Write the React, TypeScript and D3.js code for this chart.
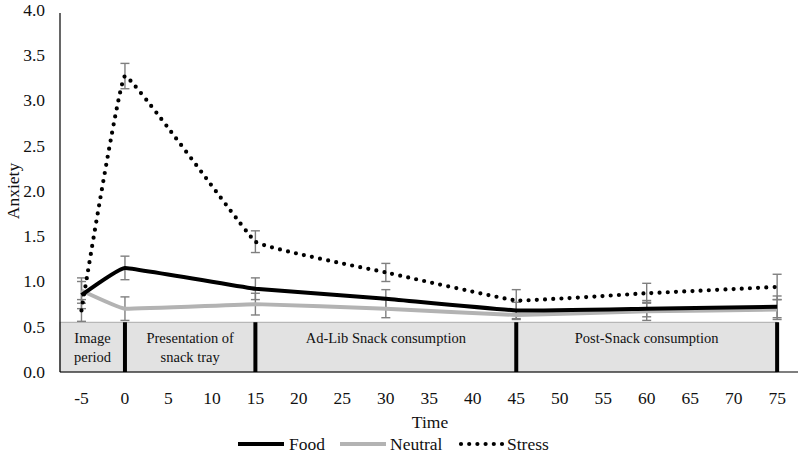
import React from "react";
import * as d3 from "d3";

const times = [-5, 0, 15, 30, 45, 60, 75];
const food = [0.85, 1.15, 0.92, 0.81, 0.68, 0.70, 0.72];
const foodErr = [0.15, 0.13, 0.12, 0.10, 0.09, 0.09, 0.12];
const neutral = [0.90, 0.70, 0.75, 0.70, 0.63, 0.67, 0.69];
const neutralErr = [0.14, 0.13, 0.12, 0.10, 0.05, 0.10, 0.11];
const stress = [0.68, 3.27, 1.44, 1.10, 0.79, 0.87, 0.94];
const stressErr = [0.12, 0.14, 0.12, 0.10, 0.12, 0.11, 0.14];
const xTicks = [-5, 0, 5, 10, 15, 20, 25, 30, 35, 40, 45, 50, 55, 60, 65, 70, 75];
const yTicks = [0, 0.5, 1, 1.5, 2, 2.5, 3, 3.5, 4];
const phaseBounds = [0, 15, 45, 75];
const phases = [
  { from: -7.47, to: 0, lines: ["Image", "period"] },
  { from: 0, to: 15, lines: ["Presentation of", "snack tray"] },
  { from: 15, to: 45, lines: ["Ad-Lib Snack consumption"] },
  { from: 45, to: 75, lines: ["Post-Snack consumption"] },
];
const boxTop = 0.55;

const W = 800, H = 454;
const left = 60, right = 798, top = 10, bottom = 372;
const font = "'Liberation Serif', 'Times New Roman', serif";

export default function App() {
  const x = d3.scaleLinear().domain([-7.47, 77.4]).range([left, right]);
  const y = d3.scaleLinear().domain([0, 4]).range([bottom, top]);
  const line = d3
    .line<number>()
    .x((_, i) => x(times[i]))
    .y((d) => y(d))
    .curve(d3.curveCardinal.tension(0.8));

  const series = [
    { name: "Food", vals: food, err: foodErr, color: "#000", width: 4, dash: undefined as string | undefined, cap: "butt" },
    { name: "Neutral", vals: neutral, err: neutralErr, color: "#b3b3b3", width: 4, dash: undefined, cap: "butt" },
    { name: "Stress", vals: stress, err: stressErr, color: "#000", width: 4.2, dash: "0 8.2", cap: "round" },
  ];

  return (
    <svg width={W} height={H} style={{ position: "absolute", left: 0, top: 0, background: "#fff" }}>
      <rect
        x={left}
        y={y(boxTop)}
        width={x(75) - left}
        height={bottom - y(boxTop)}
        fill="#e2e2e2"
        stroke="#9a9a9a"
        strokeWidth={0.8}
      />
      {phaseBounds.map((b) => (
        <line key={b} x1={x(b)} x2={x(b)} y1={y(boxTop)} y2={bottom} stroke="#000" strokeWidth={4} />
      ))}
      {phases.map((p, i) => {
        const cx = (x(p.from) + x(p.to)) / 2;
        return (
          <text key={i} x={cx} textAnchor="middle" fontFamily={font} fontSize={14.5} fill="#111">
            {p.lines.map((l, j) => (
              <tspan key={j} x={cx} y={y(boxTop) + 21 + j * 19}>
                {l}
              </tspan>
            ))}
          </text>
        );
      })}

      <line x1={left} x2={left} y1={top + 3} y2={bottom} stroke="#000" strokeWidth={1.2} />
      <line x1={left} x2={right} y1={bottom} y2={bottom} stroke="#000" strokeWidth={1.2} />
      {yTicks.map((t) => (
        <text key={t} x={45} y={y(t)} dy="0.33em" textAnchor="end" fontFamily={font} fontSize={17.5} fill="#111">
          {t.toFixed(1)}
        </text>
      ))}
      {xTicks.map((t) => (
        <text key={t} x={x(t)} y={398} dy="0.35em" textAnchor="middle" fontFamily={font} fontSize={17.5} fill="#111">
          {t}
        </text>
      ))}
      <text x={430} y={422} dy="0.35em" textAnchor="middle" fontFamily={font} fontSize={17.5} fill="#111">
        Time
      </text>
      <text
        transform={`translate(13,${(top + bottom) / 2}) rotate(-90)`}
        dy="0.35em"
        textAnchor="middle"
        fontFamily={font}
        fontSize={17.5}
        fill="#111"
      >
        Anxiety
      </text>

      {series.map((s) =>
        s.vals.map((v, i) => {
          const cx = x(times[i]);
          const y1 = y(v - s.err[i]);
          const y2 = y(v + s.err[i]);
          return (
            <g key={s.name + i} stroke="#7f7f7f" strokeWidth={1.4}>
              <line x1={cx} x2={cx} y1={y1} y2={y2} />
              <line x1={cx - 4.5} x2={cx + 4.5} y1={y1} y2={y1} />
              <line x1={cx - 4.5} x2={cx + 4.5} y1={y2} y2={y2} />
            </g>
          );
        })
      )}

      {[series[1], series[0], series[2]].map((s) => (
        <path
          key={s.name}
          d={line(s.vals) || ""}
          fill="none"
          stroke={s.color}
          strokeWidth={s.width}
          strokeDasharray={s.dash}
          strokeLinecap={s.cap as any}
          strokeLinejoin="round"
        />
      ))}

      {[
        { s: series[0], x0: 238, x1: 284, tx: 289 },
        { s: series[1], x0: 340, x1: 386, tx: 390 },
        { s: series[2], x0: 461, x1: 503, tx: 507 },
      ].map((l) => (
        <g key={l.s.name}>
          <line
            x1={l.x0}
            x2={l.x1}
            y1={444}
            y2={444}
            stroke={l.s.color}
            strokeWidth={l.s.width}
            strokeDasharray={l.s.dash}
            strokeLinecap={l.s.cap as any}
          />
          <text x={l.tx} y={444} dy="0.35em" fontFamily={font} fontSize={17.5} fill="#111">
            {l.s.name}
          </text>
        </g>
      ))}
    </svg>
  );
}
